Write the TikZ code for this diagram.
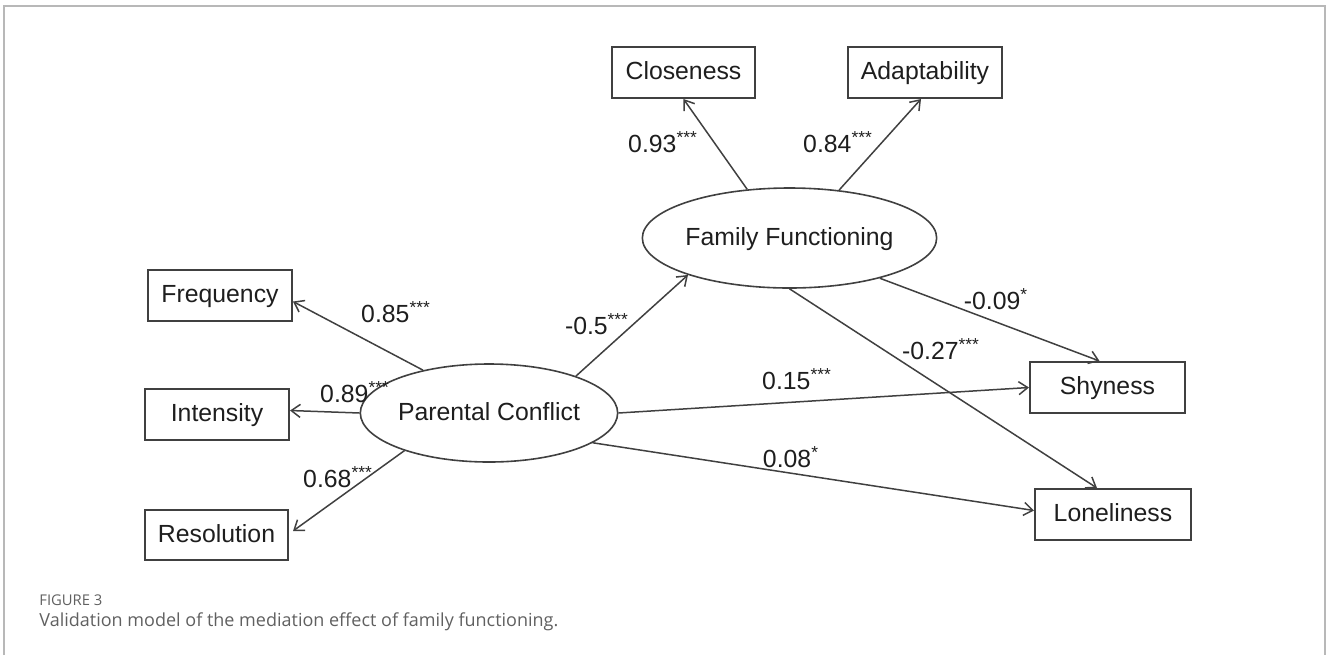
\documentclass[tikz,border=0pt]{standalone}
\usepackage{fontspec}
\setmainfont{Liberation Sans}
\newfontfamily\capfont{Open Sans}
\usetikzlibrary{arrows.meta,shapes.geometric}
\definecolor{ln}{HTML}{404040}
\definecolor{tx}{HTML}{1E1E1E}
\definecolor{frm}{HTML}{B8B8B8}
\definecolor{capc}{HTML}{606060}
\begin{document}
\begin{tikzpicture}[x=0.5pt,y=-0.5pt,
  every node/.style={text=tx,font=\fontsize{12.4}{14}\selectfont},
  obs/.style={draw=ln,line width=1pt,rectangle,inner sep=0pt,text height=0.72em,text depth=0.02em},
  lat/.style={draw=ln,line width=0.8pt,ellipse,inner sep=0pt,text height=0.72em,text depth=0.02em},
  arr/.style={draw=ln,line width=0.75pt,-{Straight Barb[length=4.5pt,width=6.5pt]}},
  lab/.style={inner sep=0pt}]
\useasboundingbox (0,0) rectangle (1330,655);
% frame
\draw[frm,line width=1pt] (4,655) -- (4,6) -- (1325,6) -- (1325,655);
% observed
\node[obs,minimum width=143pt/2,minimum height=51pt/2] (clo) at (683.5,72.5) {Closeness};
\node[obs,minimum width=154pt/2,minimum height=51pt/2] (ada) at (925,72.5) {Adaptability};
\node[obs,minimum width=144pt/2,minimum height=51pt/2] (fre) at (220,295.5) {Frequency};
\node[obs,minimum width=144pt/2,minimum height=51pt/2] (int) at (217,414.5) {Intensity};
\node[obs,minimum width=143pt/2,minimum height=50pt/2] (res) at (216.5,535) {Resolution};
\node[obs,minimum width=155pt/2,minimum height=51pt/2] (shy) at (1107.5,387.5) {Shyness};
\node[obs,minimum width=156pt/2,minimum height=51pt/2] (lon) at (1113,514.5) {Loneliness};
% latent
\node[lat,minimum width=247pt/2,minimum height=100pt/2] (ff) at (789.5,238) {Family Functioning};
\node[lat,minimum width=212pt/2,minimum height=98pt/2] (pc) at (489,413) {Parental Conflict};
% connectors
\draw[arr] (ff.131) -- (clo.south);
\draw[arr] (ff.44) -- ([xshift=-2]ada.south);
\draw[arr] (pc.147) -- ([yshift=-3]fre.east);
\draw[arr] (pc.west) -- ([yshift=2]int.east);
\draw[arr] (pc.204) -- ([xshift=2,yshift=2]res.east);
\draw[arr] (pc.23) -- (ff.200);
\draw[arr] (ff.336) -- ([xshift=-4]shy.north);
\draw[arr] (ff.south) -- ([xshift=-8]lon.north);
\draw[arr] (pc.east) -- (shy.west);
\draw[arr] (pc.-16) -- ([yshift=2]lon.west);
% labels
\node[lab] (l1) at (663,142) {0.93\textsuperscript{***}};
\node[lab] (l2) at (838,142) {0.84\textsuperscript{***}};
\node[lab] (l3) at (396,312) {0.85\textsuperscript{***}};
\node[lab] (l4) at (355,392) {0.89\textsuperscript{***}};
\node[lab] (l5) at (338,477) {0.68\textsuperscript{***}};
\node[lab] (l6) at (597,324) {-0.5\textsuperscript{***}};
\node[lab] (l7) at (996,299) {-0.09\textsuperscript{*}};
\node[lab] (l8) at (941,349) {-0.27\textsuperscript{***}};
\node[lab] (l9) at (797,379) {0.15\textsuperscript{***}};
\node[lab] (l10) at (791,457) {0.08\textsuperscript{*}};
% caption
\node[anchor=west,inner sep=0pt,text=capc,font=\capfont\fontsize{7.4}{9}\selectfont] (fig) at (39,600) {FIGURE 3};
\node[anchor=west,inner sep=0pt,text=capc,font=\capfont\fontsize{9.0}{11}\selectfont] (cap) at (39,622) {Validation model of the mediation effect of family functioning.};
\end{tikzpicture}
\end{document}
